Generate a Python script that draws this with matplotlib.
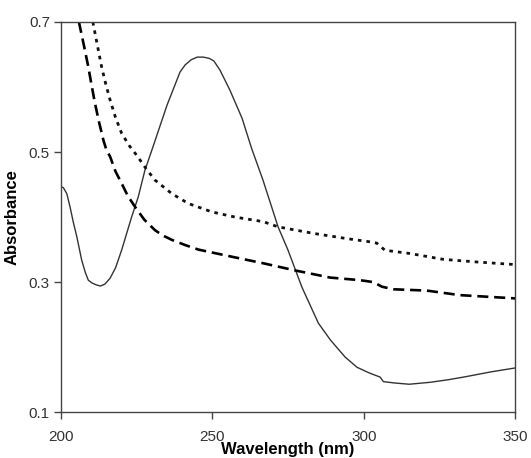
import matplotlib.pyplot as plt

# ======================================
# UV-Vis absorption spectra
# ======================================

# 1) Data
# solid curve
wl_solid = [200, 200.8, 201.9, 203, 204, 205.2, 206.8, 208, 209, 210.1, 211.5, 213, 214.5, 216.2,
            218, 220, 223.3, 225.5, 227.7, 230, 235, 239.3, 241, 243, 245, 247, 249, 250.5,
            252.5, 254, 255.8, 259.8, 263, 266.7, 271.7, 275, 279.6, 285, 289, 293.8, 297.8,
            302, 305.4, 306.5, 310, 315, 322, 328, 333, 342, 350]
abs_solid = [0.447, 0.445, 0.436, 0.415, 0.393, 0.37, 0.334, 0.315, 0.303, 0.299, 0.296, 0.294,
             0.297, 0.306, 0.322, 0.349, 0.40, 0.431, 0.472, 0.503, 0.572, 0.623, 0.634, 0.642,
             0.646, 0.646, 0.644, 0.640, 0.626, 0.612, 0.595, 0.552, 0.505, 0.457, 0.385, 0.349,
             0.292, 0.237, 0.211, 0.185, 0.169, 0.160, 0.154, 0.147, 0.145, 0.143, 0.146, 0.150,
             0.154, 0.162, 0.168]

# dotted curve
wl_dot = [210.5, 212, 213.4, 214.8, 216.2, 218, 220, 222.5, 225, 228, 231, 236.6, 242, 249.8,
          257.5, 266.8, 271.7, 283.3, 294.3, 302, 304.3, 307, 315.3, 326.3, 337.3, 350]
abs_dot = [0.70, 0.664, 0.631, 0.604, 0.58, 0.553, 0.529, 0.51, 0.495, 0.475, 0.457, 0.436,
           0.421, 0.408, 0.40, 0.393, 0.385, 0.375, 0.367, 0.362, 0.36, 0.349, 0.344, 0.335,
           0.331, 0.327]

# dashed curve
wl_dash = [205.9, 207.5, 209, 210, 211.2, 212.6, 214, 215, 216.2, 218, 220, 222, 224.4, 227.5,
           231, 233.5, 236.6, 241, 245.4, 257.5, 266.8, 277.3, 288.9, 298.8, 303.2, 306, 309.8,
           320.8, 331.8, 350]
abs_dash = [0.70, 0.665, 0.631, 0.605, 0.575, 0.545, 0.518, 0.503, 0.493, 0.47, 0.452, 0.433,
            0.416, 0.396, 0.38, 0.372, 0.365, 0.357, 0.35, 0.338, 0.329, 0.318, 0.307, 0.303,
            0.30, 0.293, 0.289, 0.287, 0.28, 0.275]

x_ticks = [200, 250, 300, 350]
y_ticks = [0.1, 0.3, 0.5, 0.7]

# 2) Figure
plt.rcParams['font.family'] = ['Liberation Sans', 'DejaVu Sans']
fig = plt.figure(figsize=(5.31, 4.58), dpi=100)
ax = fig.add_axes([0.115, 0.1, 0.855, 0.852])

ax.plot(wl_solid, abs_solid, color='#333333', lw=1.0)
ax.plot(wl_dot, abs_dot, color='#111111', lw=2.0, linestyle=(0, (1.3, 1.8)))
ax.plot(wl_dash, abs_dash, color='black', lw=1.9, linestyle=(0, (4.2, 2.2)))

ax.set_xlim(200, 350)
ax.set_ylim(0.1, 0.7)
ax.set_xticks(x_ticks)
ax.set_yticks(y_ticks)
ax.set_xticklabels([str(v) for v in x_ticks])
ax.set_yticklabels([f"{v:.1f}" for v in y_ticks])

for s in ax.spines.values():
    s.set_color('#444444')
    s.set_linewidth(1.0)
ax.tick_params(axis='both', direction='out', length=5, width=1, color='#444444',
               labelsize=11, labelcolor='#333333')
ax.tick_params(axis='x', pad=8)
ax.tick_params(axis='y', pad=3)

ax.set_xlabel("Wavelength (nm)", fontsize=12, fontweight='bold', labelpad=-1.5)
ax.set_ylabel("Absorbance", fontsize=12, fontweight='bold', labelpad=7)

plt.savefig("out.png", dpi=100)
